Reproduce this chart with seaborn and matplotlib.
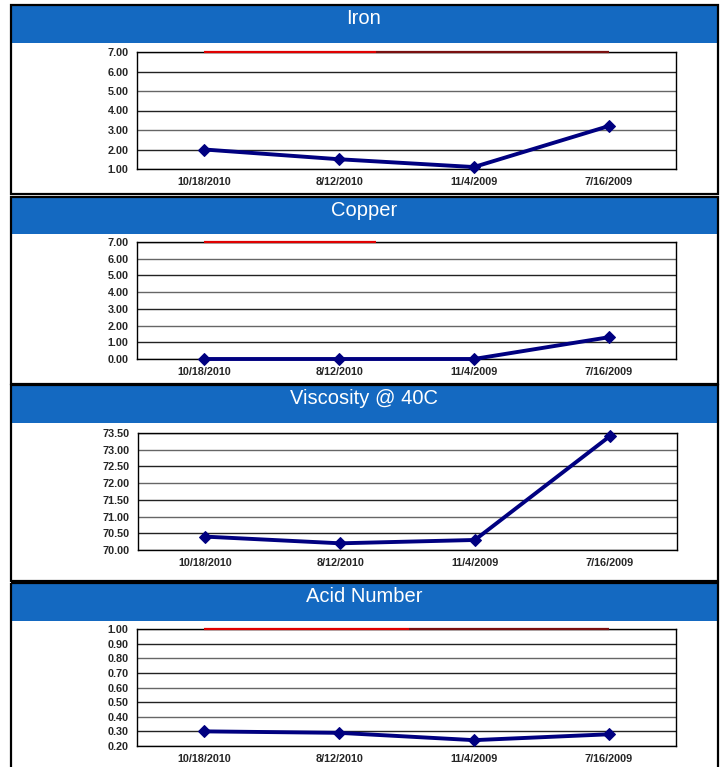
import numpy as np
import pandas as pd
import matplotlib
matplotlib.use("Agg")
import matplotlib.pyplot as plt
from matplotlib.patches import Rectangle
import seaborn as sns

# Sample dates (categories) and measured values
dates = ["10/18/2010", "8/12/2010", "11/4/2009", "7/16/2009"]
iron = [2.00, 1.50, 1.10, 3.20]
copper = [0.00, 0.00, 0.00, 1.30]
viscosity = [70.40, 70.20, 70.30, 73.40]
acid = [0.30, 0.29, 0.24, 0.28]

titles = ["Iron", "Copper", "Viscosity @ 40C", "Acid Number"]
y_ranges = [(1.0, 7.0, 1.0), (0.0, 7.0, 1.0), (70.0, 73.5, 0.5), (0.2, 1.0, 0.1)]

sns.set_style("white")
plt.rcParams["font.family"] = ["Liberation Sans", "DejaVu Sans"]

W, H = 724, 767
fig = plt.figure(figsize=(W / 100, H / 100), dpi=100)
fig.patch.set_facecolor("white")

# background layer in pixel coords for headers / frames
bg = fig.add_axes([0, 0, 1, 1])
bg.set_xlim(0, W)
bg.set_ylim(H, 0)
bg.axis("off")

headers = [(5, 43), (197, 234), (385, 423), (583, 621)]
panel_bottoms = [194, 384, 581, 770]
blue = "#1469c1"
for (top, bot), pb, title in zip(headers, panel_bottoms, titles):
    bg.add_patch(Rectangle((11, top), 706, bot - top, facecolor=blue, edgecolor="none"))
    bg.add_patch(Rectangle((10.5, top - 0.5), 707.5, pb - top, facecolor="none",
                           edgecolor="black", linewidth=1.6))
    bg.text(364, (top + bot) / 2 - 5, title, color="white", fontsize=14.5,
            ha="center", va="center")

# chart axes boxes in pixels: left, top, right, bottom
boxes = [(137, 52, 676, 169), (137, 242, 676, 359), (138, 433, 677, 550), (137, 629, 676, 746)]
series = [iron, copper, viscosity, acid]
# red limit line spans (start, end) in category units, None if absent
red_spans = [(0, 1.27), (0, 1.27), None, (0, 1.52)]
dark_spans = [(1.27, 3), None, None, (1.52, 3)]

for (l, t, r, b), vals, (ymin, ymax, step), rs, ds in zip(boxes, series, y_ranges, red_spans, dark_spans):
    ax = fig.add_axes([l / W, 1 - b / H, (r - l) / W, (b - t) / H])
    df = pd.DataFrame({"date": dates, "value": vals, "pos": np.arange(len(dates))})
    ticks = np.arange(ymin, ymax + step / 2, step)
    for i, yv in enumerate(ticks):
        ax.axhline(yv, color="#222222" if i % 2 else "#666666", linewidth=1.0, zorder=1)
    if rs:
        ax.hlines(ymax, rs[0], rs[1], color="#e00000", linewidth=1.6, zorder=5, clip_on=False)
    if ds:
        ax.hlines(ymax, ds[0], ds[1], color="#7a1010", linewidth=1.6, zorder=5, clip_on=False)
    sns.lineplot(data=df, x="pos", y="value", ax=ax, color="#000080", linewidth=2.8,
                 marker="D", markersize=6.5, markeredgecolor="#000080", zorder=6, clip_on=False)
    ax.set_xlim(-0.5, len(dates) - 0.5)
    ax.set_ylim(ymin, ymax)
    ax.set_yticks(ticks)
    ax.set_yticklabels([f"{v:.2f}" for v in ticks], fontsize=7.8, fontweight="bold")
    ax.set_xticks(np.arange(len(dates)))
    ax.set_xticklabels(dates, fontsize=7.8, fontweight="bold")
    ax.tick_params(length=0, pad=6)
    ax.set_xlabel("")
    ax.set_ylabel("")
    for s in ax.spines.values():
        s.set_visible(True)
        s.set_color("black")
        s.set_linewidth(1.0)

fig.savefig("out.png", dpi=100)
